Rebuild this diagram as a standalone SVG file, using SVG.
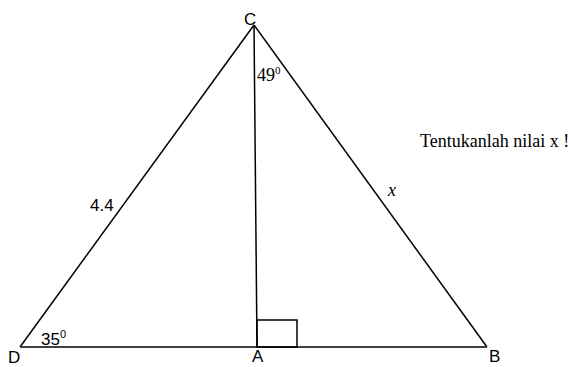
<svg xmlns="http://www.w3.org/2000/svg" width="569" height="367" viewBox="0 0 569 367">
<style>
.ln{stroke:#000;stroke-width:1.5;fill:none}
.base{stroke:#404040;stroke-width:2;fill:none}
.lbl{font-family:"Liberation Sans","Open Sans",sans-serif;font-size:17px;fill:#000}
.srf{font-family:"Liberation Serif","DejaVu Serif",serif;font-size:18px;fill:#000}
.sup{font-size:11px}
</style>
<rect width="569" height="367" fill="#fff"/>
<g id="connectors">
<line class="ln" x1="254" y1="25" x2="20" y2="347"/>
<line class="ln" x1="254" y1="25" x2="487" y2="347"/>
<line class="ln" x1="254" y1="25" x2="257" y2="347"/>
<line class="base" x1="20" y1="347" x2="487" y2="347"/>
<rect class="ln" x="257" y="320" width="40" height="27"/>
</g>
<g id="C"><text class="lbl" x="244" y="25">C</text></g>
<g id="D"><text class="lbl" x="8" y="363">D</text></g>
<g id="A"><text class="lbl" x="252" y="362" font-size="16">A</text></g>
<g id="B"><text class="lbl" x="489" y="362">B</text></g>
<g id="angleC"><text class="srf" x="257" y="81">49<tspan class="sup" dy="-7">0</tspan></text></g>
<g id="angleD"><text class="lbl" x="41" y="345">35<tspan class="sup" dy="-7">0</tspan></text></g>
<g id="sideCD"><text class="lbl" x="90" y="211">4.4</text></g>
<g id="sideCB"><text class="srf" x="388" y="196" font-style="italic">x</text></g>
<g id="question"><text class="srf" x="420" y="147" font-size="14.5">Tentukanlah nilai x !</text></g>
</svg>
